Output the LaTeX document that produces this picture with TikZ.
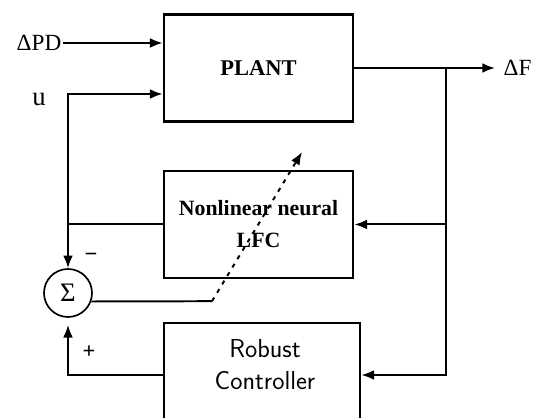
\documentclass[tikz,border=0pt]{standalone}
\usepackage{fontspec}
\setmainfont{Liberation Serif}
\usetikzlibrary{arrows.meta}

\tikzset{
  block/.style={draw, line width=2pt, minimum width=4.725cm, minimum height=2.675cm, inner sep=0pt},
  sigma/.style={draw, circle, line width=1.2pt, minimum size=1.200cm, inner sep=0pt, font=\fontsize{19}{22}\selectfont},
  wire/.style={line width=1.4pt},
  arr/.style={wire, -{Latex[length=9pt,width=7pt]}},
  tune/.style={arr, dash pattern=on 3pt off 4pt},
  sig/.style={font=\fontsize{16.5}{19}\selectfont, inner sep=1pt},
  sgn/.style={font=\bfseries\fontsize{16}{18}\selectfont, inner sep=0pt}
}

\begin{document}
\begin{tikzpicture}
\useasboundingbox (0,0) rectangle (13.400,10.425);
\node[block, font=\bfseries\fontsize{16}{18}\selectfont] (plant) at (6.463,8.725) {PLANT};
\node[block, align=center, font=\bfseries\fontsize{15.5}{22.7}\selectfont] (nlfc) at (6.463,4.813) {Nonlinear neural\\LFC};
\node[block, minimum width=4.900cm, minimum height=2.600cm] (robust) at (6.550,1.050) {};
\node[align=center, font=\sffamily\fontsize{18.5}{22.7}\selectfont] (robusttxt) at (6.625,1.300) {Robust\\Controller};
\node[sigma] (sum) at (1.700,3.100) {Σ};
\node[sig] (dpd) at (0.975,9.350) {ΔPD};
\node[sig, font=\fontsize{19}{21}\selectfont] (u) at (0.975,7.925) {u};
\node[sig, anchor=west] (df) at (12.550,8.725) {ΔF};
\node[sgn] (minus) at (2.275,4.000) {−};
\node[sgn] (plus) at (2.225,1.625) {+};
\coordinate (ucorner) at (1.700,8.075);
\coordinate (branch) at (11.150,8.725);
\coordinate (tunestart) at (5.300,2.895);
\coordinate (tuneend) at (7.550,6.625);
\draw[arr] (dpd) -- (dpd -| plant.west);
\draw[arr] (nlfc.west) -| (ucorner) -- (ucorner -| plant.west);
\draw[arr] (nlfc.west -| sum.north) -- (sum.north);
\draw[arr, shorten >=5pt] (plant.east) -- (df.west);
\draw[arr] (branch) |- (nlfc.east);
\draw[arr] (branch) |- (robust.east);
\draw[arr, shorten >=5pt] (robust.west) -| (sum.south);
\draw[wire] (sum.-20) -- (tunestart);
\draw[tune] (tunestart) -- (tuneend);
\end{tikzpicture}
\end{document}
